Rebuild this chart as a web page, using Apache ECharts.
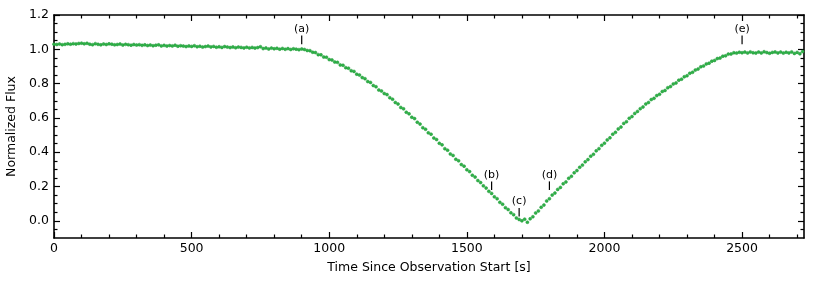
<!DOCTYPE html>
<html>
<head>
<meta charset="utf-8">
<script src="https://cdn.jsdelivr.net/npm/echarts@6/dist/echarts.min.js"></script>
<style>html,body{margin:0;padding:0;background:#fff;}#chart{width:815px;height:284px;}</style>
</head>
<body>
<div id="chart"></div>
<script>
// ---- data ----
const CADENCE = 10; // seconds between samples
const fluxBaseline = [1.030,1.028,1.031,1.027,1.029,1.032,1.030,1.033,1.031,1.034,
1.036,1.032,1.035,1.030,1.027,1.033,1.029,1.026,1.031,1.028,
1.032,1.030,1.026,1.028,1.031,1.025,1.029,1.027,1.024,1.028,
1.025,1.027,1.023,1.026,1.022,1.025,1.021,1.024,1.026,1.020,
1.023,1.019,1.022,1.020,1.024,1.018,1.021,1.019,1.016,1.020,
1.017,1.021,1.015,1.018,1.013,1.016,1.019,1.014,1.017,1.012,
1.015,1.011,1.016,1.013,1.010,1.014,1.009,1.013,1.011,1.008,
1.012,1.008,1.011,1.007,1.010,1.015,1.004,1.008,1.002,1.007,
1.003,1.006,1.001,1.005,1.000,1.004,0.999,1.003,1.001,0.998,
1.002];
const fluxIngress = [0.999,0.993,0.992,0.983,0.981,0.969,0.968,0.955,0.954,0.940,
0.938,0.926,0.924,0.909,0.907,0.893,0.890,0.875,0.871,0.855,
0.850,0.835,0.829,0.812,0.807,0.789,0.782,0.763,0.757,0.742,
0.736,0.718,0.709,0.690,0.681,0.661,0.653,0.633,0.624,0.604,
0.596,0.575,0.564,0.543,0.534,0.513,0.505,0.483,0.474,0.452,
0.443,0.421,0.412,0.390,0.381,0.359,0.350,0.328,0.319];
const fluxBottom = [0.298,0.287,0.266,0.255,0.235,0.223,0.204,0.191,0.172,0.160,
0.140,0.129,0.108,0.097,0.077,0.066,0.047,0.036,0.017,0.008,0.000,0.010];
const fluxEgress = [-0.008,0.012,0.024,0.046,0.058,0.079,0.092,0.116,0.129,0.150,
0.162,0.183,0.195,0.216,0.227,0.248,0.260,0.280,0.293,0.312,
0.325,0.344,0.357,0.377,0.388,0.408,0.421,0.440,0.453,0.472,
0.484,0.505,0.516,0.536,0.547,0.568,0.578,0.598,0.608,0.626,
0.638,0.654,0.664,0.681,0.690,0.707,0.714,0.730,0.738,0.754,
0.760,0.776,0.783,0.798,0.804,0.820,0.826,0.840,0.846,0.860,
0.866,0.879,0.885,0.898,0.903,0.915,0.919,0.931,0.935,0.946,
0.949,0.960,0.962,0.972,0.973,0.980,0.978,0.983,0.980];
const fluxPost = [0.984,0.979,0.985,0.980,0.978,0.984,0.979,0.986,0.981,0.977,
0.982,0.985,0.979,0.984,0.978,0.983,0.979,0.985,0.976,0.982,0.974,0.987];

const annLabels = ['(a)','(b)','(c)','(d)','(e)'];
const annTimes  = [900, 1590, 1690, 1800, 2500];
const annBase   = [1.03, 0.18, 0.025, 0.18, 1.03];
const annLen    = 0.05;

const xMajorTicks = [0, 500, 1000, 1500, 2000, 2500];
const xMinorTicks = [100,200,300,400,600,700,800,900,1100,1200,1300,1400,1600,1700,1800,1900,2100,2200,2300,2400,2600,2700];
const yMajorTicks = [0.0, 0.2, 0.4, 0.6, 0.8, 1.0, 1.2];
const yMinorTicks = [-0.05,0.05,0.1,0.15,0.25,0.3,0.35,0.45,0.5,0.55,0.65,0.7,0.75,0.85,0.9,0.95,1.05,1.1,1.15];

const X_MIN = 0, X_MAX = 2725, Y_MIN = -0.1, Y_MAX = 1.2;

// ---- build ----
const flux = [].concat(fluxBaseline, fluxIngress, fluxBottom, fluxEgress, fluxPost);
const points = flux.map((f, i) => [i * CADENCE, f]);
const annData = annTimes.map((t, i) => [t, annBase[i], annBase[i] + annLen]);

const FONT = 'DejaVu Sans';
function xAx(pos, major, labels) {
  return {
    type: 'value', position: pos, min: X_MIN, max: X_MAX,
    axisLine: { show: major, onZero: false, lineStyle: { color: '#000', width: 1.6 } },
    axisTick: { show: true, inside: true, length: major ? 6 : 3.5, customValues: major ? xMajorTicks : xMinorTicks,
                lineStyle: { color: '#000', width: 1.2 } },
    axisLabel: { show: labels, customValues: xMajorTicks, color: '#000', fontFamily: FONT, fontSize: 12.5, margin: 4,
                 formatter: v => String(v) },
    splitLine: { show: false },
    name: labels ? 'Time Since Observation Start [s]' : '',
    nameLocation: 'middle', nameGap: 23,
    nameTextStyle: { color: '#000', fontFamily: FONT, fontSize: 12.5 }
  };
}
function yAx(pos, major, labels) {
  return {
    type: 'value', position: pos, min: Y_MIN, max: Y_MAX,
    axisLine: { show: major, onZero: false, lineStyle: { color: '#000', width: 1.6 } },
    axisTick: { show: true, inside: true, length: major ? 6 : 3.5, customValues: major ? yMajorTicks : yMinorTicks,
                lineStyle: { color: '#000', width: 1.2 } },
    axisLabel: { show: labels, customValues: yMajorTicks, color: '#000', fontFamily: FONT, fontSize: 12.5, margin: 5,
                 formatter: v => v.toFixed(1) },
    splitLine: { show: false },
    name: labels ? 'Normalized Flux' : '',
    nameLocation: 'middle', nameGap: 30,
    nameTextStyle: { color: '#000', fontFamily: FONT, fontSize: 12.5 }
  };
}

const chart = echarts.init(document.getElementById('chart'), null, { renderer: 'canvas' });
chart.setOption({
  animation: false,
  backgroundColor: '#fff',
  grid: { left: 54, right: 11, top: 15, bottom: 46, containLabel: false, outerBoundsMode: 'none' },
  xAxis: [ xAx('bottom', true, true), xAx('bottom', false, false), xAx('top', true, false), xAx('top', false, false) ],
  yAxis: [ yAx('left', true, true), yAx('left', false, false), yAx('right', true, false), yAx('right', false, false) ],
  series: [
    {
      type: 'scatter', xAxisIndex: 0, yAxisIndex: 0, data: points,
      symbol: 'circle', symbolSize: 3,
      itemStyle: { color: '#2fb248', borderColor: '#1f9636', borderWidth: 0.5, opacity: 1 },
      emphasis: { disabled: true }, silent: true
    },
    {
      type: 'custom', xAxisIndex: 0, yAxisIndex: 0, data: annData, silent: true,
      renderItem: function (params, api) {
        const p0 = api.coord([api.value(0), api.value(1)]);
        const p1 = api.coord([api.value(0), api.value(2)]);
        return {
          type: 'group',
          children: [
            { type: 'line', shape: { x1: p0[0], y1: p0[1], x2: p1[0], y2: p1[1] },
              style: { stroke: '#000', lineWidth: 1.2 } },
            { type: 'text', x: p1[0], y: p1[1] - 1,
              style: { text: annLabels[params.dataIndex], fill: '#000', font: '11px "DejaVu Sans"',
                       textAlign: 'center', textVerticalAlign: 'bottom' } }
          ]
        };
      }
    }
  ]
});
</script>
</body>
</html>
